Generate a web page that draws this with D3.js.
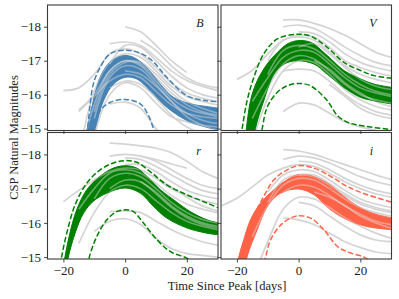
<!DOCTYPE html>
<html><head><meta charset="utf-8">
<script src="https://cdn.jsdelivr.net/npm/d3@7"></script>
<style>body{margin:0;background:#fff}svg{display:block}</style>
</head><body><svg id="c" width="399" height="299"></svg>
<script>
// ---------- data ----------
const days = [-25,-20,-15,-10,-5,0,5,10,15,20,25,30];
const filters = ["B","V","r","i"];
const filterColors = ["#4682b4","#008000","#008000","#ff6347"];
const xTicks = [-20,0,20];
const yTicks = [-18,-17,-16,-15];
const xLabel = "Time Since Peak [days]";
const yLabel = "CSP Natural Magnitudes";

// coloured template bands: [day, mag]
const bandUpperB = [[-15,-13.7],[-12.2,-15.0],[-10.8,-15.63],[-9.2,-16.21],[-7,-16.71],[-4.3,-17.0],[-0.5,-17.15],[2.7,-17.1],[7,-16.8],[11.4,-16.31],[15.7,-15.92],[21.1,-15.73],[26.5,-15.65],[30.5,-15.6]];
const bandLowerB = [[-12,-14.3],[-9.7,-15.0],[-7,-15.82],[-3.8,-16.31],[0,-16.51],[3.8,-16.46],[8.1,-16.12],[13.5,-15.63],[20,-15.24],[26.5,-15.04],[30.5,-14.97]];
const bandUpperV = [[-17.5,-14.5],[-15.6,-15.82],[-13.4,-16.41],[-10.2,-16.9],[-6.9,-17.24],[-3.7,-17.49],[-0.4,-17.59],[3.9,-17.54],[9.3,-17.15],[14.7,-16.71],[20.1,-16.46],[24.5,-16.31],[30.5,-16.21]];
const bandLowerV = [[-15,-14.4],[-14,-15.0],[-11.3,-15.82],[-8,-16.6],[-4.8,-16.9],[-0.4,-17.0],[5,-16.9],[9.3,-16.6],[14.7,-16.21],[20.1,-15.92],[24.5,-15.82],[30.5,-15.72]];
const bandUpperR = [[-21,-14.2],[-19.5,-15.0],[-17.9,-15.7],[-15.7,-16.38],[-12.4,-16.97],[-8.1,-17.36],[-3.8,-17.6],[0,-17.67],[3.8,-17.6],[7,-17.36],[11.4,-16.97],[15.8,-16.67],[21.1,-16.33],[26.5,-16.09],[30.5,-15.99]];
const bandLowerR = [[-19.5,-14.4],[-18.4,-15.0],[-16.2,-15.7],[-13.5,-16.28],[-10.3,-16.63],[-5.9,-16.87],[0,-17.02],[4.9,-16.87],[9.2,-16.48],[13.5,-16.14],[20.1,-15.85],[26.5,-15.7],[30.5,-15.65]];
const bandUpperI = [[-20.5,-14.4],[-19.4,-15.0],[-17.8,-15.5],[-15.6,-16.09],[-12.3,-16.58],[-8,-16.97],[-3.7,-17.26],[0,-17.41],[3.8,-17.38],[9.3,-17.16],[14.7,-16.77],[20.1,-16.43],[25.5,-16.24],[30.5,-16.14]];
const bandLowerI = [[-17.7,-14.6],[-16.7,-15.0],[-15.6,-15.31],[-13.4,-15.8],[-10.2,-16.48],[-5.8,-16.87],[0,-16.99],[5,-16.82],[10.4,-16.38],[15.8,-16.09],[22.3,-15.89],[30.5,-15.8]];

// dashed envelopes: [day, mag]
const dashHiB = [[-14,-13.9],[-12.2,-15.0],[-10.3,-16.31],[-8.1,-16.8],[-4.9,-17.2],[0,-17.31],[5,-17.22],[9,-16.98],[13.5,-16.51],[20,-15.97],[26.5,-15.82],[30.5,-15.8]];
const dashLoB = [[-11,-14.5],[-10,-15.0],[-8.1,-15.53],[-4.9,-15.77],[0,-15.86],[4.9,-15.73],[7.5,-15.4],[9.2,-15.0],[10.5,-14.7]];
const dashHiV = [[-19.5,-14.3],[-18.3,-15.0],[-16.7,-15.82],[-14.5,-16.51],[-11.3,-17.2],[-6.9,-17.64],[-0.4,-17.78],[3.9,-17.72],[9.3,-17.39],[14.7,-16.95],[20.1,-16.71],[24.5,-16.56],[30.5,-16.48]];
const dashLoV = [[-12.8,-14.5],[-11.8,-15.0],[-10.2,-15.63],[-6.9,-16.07],[-3.7,-16.26],[0,-16.33],[3.9,-16.26],[9.3,-15.82],[12.6,-15.38],[15.8,-15.19],[20.1,-15.09],[30.5,-14.97]];
const dashHiR = [[-21.8,-14.3],[-20.6,-15.0],[-18.9,-15.7],[-16.2,-16.53],[-12.4,-17.16],[-8.1,-17.55],[-3.8,-17.75],[0,-17.82],[3.8,-17.77],[8.1,-17.5],[13.5,-17.11],[20,-16.82],[26.5,-16.58],[30.5,-16.43]];
const dashLoR = [[-12.8,-14.5],[-11.6,-15.0],[-9.2,-15.6],[-5.9,-16.09],[-2.7,-16.33],[0,-16.38],[2.7,-16.33],[6,-15.99],[10.4,-15.5],[14.7,-15.16],[20,-14.97],[22,-14.85]];
const dashHiI = [[-20,-14.4],[-18.8,-15.0],[-16.7,-15.6],[-14.5,-16.19],[-11.3,-16.77],[-8,-17.26],[-3.7,-17.55],[0,-17.67],[5,-17.6],[10.4,-17.36],[15.8,-17.06],[22.3,-16.82],[30.5,-16.6]];
const dashLoI = [[-11.8,-14.6],[-10.7,-15.0],[-9.1,-15.5],[-5.8,-15.94],[-2.6,-16.14],[0,-16.21],[3.9,-16.14],[8.2,-15.8],[12.6,-15.31],[16.9,-15.12],[21.2,-15.0],[23,-14.9]];

// individual (grey) light curves, magnitudes at `days`
const _ = null;
const grayB = [
  [_,_,_,_,_,-18.0,-17.85,-17.45,-17.0,-16.65,_,_],
  [_,_,_,_,-17.5,-17.55,-17.45,-17.1,-16.7,-16.42,-16.25,-16.12],
  [_,-16.12,-16.2,-16.6,-17.2,-17.35,-17.2,-16.8,-16.35,-16.05,-15.9,-15.8],
  [_,_,_,_,-15.72,-15.78,-15.6,-15.0,-14.5,_,_,_],
  [_,_,-15.5,-15.95,-16.4,-16.6,-16.5,-16.1,-15.7,-15.45,-15.35,-15.3],
  [_,_,-14.2,-16.1,-16.95,-17.2,-17.1,-16.7,-16.25,-15.95,-15.8,-15.7],
  [_,_,-14.0,-15.7,-16.7,-17.0,-16.85,-16.4,-15.9,-15.6,-15.45,-15.35],
  [_,_,_,-15.3,-16.5,-16.85,-16.75,-16.3,-15.8,-15.45,-15.25,-15.15],
  [_,_,_,_,-16.9,-17.45,-17.4,-17.0,-16.55,-16.2,-16.0,-15.9],
  [_,_,_,-15.5,-16.6,-16.95,-16.95,-16.6,-16.15,-15.8,-15.6,-15.45],
  [_,_,_,_,_,-16.7,-16.6,-16.25,-15.8,-15.35,-15.1,-14.95],
  [_,_,_,_,-16.2,-16.4,-16.3,-15.9,-15.4,-15.05,-14.85,_],
  [_,_,_,-14.8,-16.0,-16.35,-16.2,-15.75,-15.35,-15.2,-15.1,-15.05],
  [_,_,_,_,_,_,-17.6,-17.3,-16.85,-16.5,-16.3,-16.2],
  [_,_,-15.55,-16.0,-16.7,-17.0,-16.9,-16.5,-16.05,-15.7,-15.5,-15.4]
];
const grayV = [
  [_,-16.45,-16.72,-17.2,-17.6,-17.75,-17.7,-17.4,-17.0,-16.8,-16.65,-16.55],
  [_,_,_,_,-18.2,-18.2,-18.1,-17.95,-17.75,-17.5,-17.25,-17.1],
  [_,_,_,_,-18.0,-18.05,-17.95,-17.7,-17.4,-17.15,-16.95,-16.85],
  [_,_,_,_,_,-17.85,-17.8,-17.55,-17.2,-16.95,-16.8,-16.7],
  [_,_,_,-17.0,-17.6,-17.7,-17.6,-17.25,-16.85,-16.6,-16.45,-16.35],
  [_,_,-15.8,-16.5,-17.1,-17.3,-17.25,-16.9,-16.5,-16.2,-16.05,-15.95],
  [_,_,-15.3,-16.2,-16.9,-17.15,-17.05,-16.7,-16.3,-16.0,-15.85,-15.75],
  [_,_,_,_,-15.5,-15.75,-15.7,-15.45,-15.2,-15.05,-14.95,_],
  [_,_,_,_,-16.7,-16.75,-16.7,-16.4,-16.0,-15.7,-15.5,-15.4],
  [_,_,_,_,_,-17.4,-17.5,-17.2,-16.8,-16.45,-16.25,-16.15],
  [_,_,_,-16.6,-17.3,-17.45,-17.35,-17.0,-16.6,-16.3,-16.1,-16.0],
  [_,_,_,_,_,_,-17.0,-16.75,-16.35,-16.05,-15.8,-15.65],
  [_,_,_,_,_,_,_,-16.3,-15.95,-15.6,-15.4,-15.3],
  [_,_,-14.6,-15.9,-16.7,-17.0,-16.95,-16.6,-16.15,-15.85,-15.65,-15.55]
];
const grayR = [
  [_,-16.62,-16.95,-17.25,-17.5,-17.6,-17.55,-17.3,-17.0,-16.8,-16.65,-16.55],
  [_,_,_,_,-18.33,-18.3,-18.25,-18.18,-18.05,-17.8,-17.5,-17.3],
  [_,_,_,_,-17.95,-18.0,-17.95,-17.8,-17.55,-17.3,-17.1,-17.0],
  [_,_,_,_,_,-17.9,-17.85,-17.65,-17.4,-17.15,-16.95,-16.85],
  [_,_,_,_,_,_,-17.95,-17.85,-17.72,-17.6,_,_],
  [_,_,-16.4,-17.0,-17.45,-17.55,-17.45,-17.15,-16.8,-16.55,-16.4,-16.3],
  [_,_,_,-16.7,-17.3,-17.45,-17.35,-17.0,-16.6,-16.3,-16.1,-16.0],
  [_,_,_,-15.75,-16.05,-16.12,-15.95,-15.55,-15.25,-15.1,-15.05,-15.0],
  [_,_,_,_,-16.33,-16.35,-16.3,-16.05,-15.8,-15.6,-15.45,-15.35],
  [_,_,-15.4,-16.3,-16.9,-17.1,-17.0,-16.65,-16.3,-16.05,-15.9,-15.8],
  [_,_,_,_,_,-17.7,-17.7,-17.5,-17.2,-16.95,-16.8,-16.7],
  [_,_,_,_,_,_,-17.2,-16.9,-16.5,-16.2,-16.0,-15.9],
  [_,_,_,_,-17.0,-17.25,-17.2,-16.85,-16.45,-16.15,-15.95,-15.85],
  [_,_,_,_,_,_,_,-17.3,-17.05,-16.75,-16.5,-16.35]
];
const grayI = [
  [-16.5,-16.72,-17.05,-17.4,-17.6,-17.7,-17.65,-17.45,-17.2,-17.0,-16.85,-16.75],
  [_,_,_,_,-18.14,-18.1,-18.0,-17.85,-17.7,-17.55,-17.4,-17.27],
  [_,_,_,_,-17.85,-17.95,-17.9,-17.75,-17.55,-17.35,-17.2,-17.1],
  [_,_,_,_,_,-17.8,-17.75,-17.55,-17.3,-17.1,-16.95,-16.85],
  [_,_,_,-16.9,-17.4,-17.55,-17.5,-17.25,-16.95,-16.7,-16.55,-16.45],
  [_,_,_,_,-16.14,-16.09,-15.95,-15.7,-15.45,-15.28,-15.15,-15.1],
  [_,_,-14.3,-15.45,-16.4,-16.75,-16.7,-16.45,-16.15,-15.9,-15.7,-15.55],
  [_,_,-15.6,-16.5,-17.1,-17.3,-17.25,-17.0,-16.7,-16.45,-16.3,-16.2],
  [_,_,_,_,-16.9,-17.1,-17.05,-16.8,-16.5,-16.25,-16.05,-15.95],
  [_,_,_,_,_,-17.4,-17.4,-17.15,-16.85,-16.6,-16.45,-16.35],
  [_,_,_,-16.6,-17.25,-17.4,-17.35,-17.1,-16.8,-16.55,-16.4,-16.3],
  [_,_,_,_,_,_,-16.9,-16.75,-16.5,-16.2,-16.0,-15.85],
  [_,_,_,_,_,-16.6,-16.5,-16.2,-15.9,-15.65,-15.5,-15.45]
];

// ---------- drawing ----------
const svg = d3.select("#c");
const W = 170.5;
const panels = [
  {name:"B", left:47.5, top:5, h:125.5, upper:bandUpperB, lower:bandLowerB, hi:dashHiB, lo:dashLoB, gray:grayB, color:filterColors[0], showY:true, showX:false, lx:200, ly:26.5},
  {name:"V", left:221, top:5, h:125.5, upper:bandUpperV, lower:bandLowerV, hi:dashHiV, lo:dashLoV, gray:grayV, color:filterColors[1], showY:false, showX:false, lx:373, ly:26.5},
  {name:"r", left:47.5, top:132.5, h:126.5, upper:bandUpperR, lower:bandLowerR, hi:dashHiR, lo:dashLoR, gray:grayR, color:filterColors[2], showY:true, showX:true, lx:198.5, ly:155},
  {name:"i", left:221, top:132.5, h:126.5, upper:bandUpperI, lower:bandLowerI, hi:dashHiI, lo:dashLoI, gray:grayI, color:filterColors[3], showY:false, showX:true, lx:371.5, ly:155}
];
const fmt = v => (v < 0 ? "\u2212" + Math.abs(v) : String(v));
const font = "'Liberation Serif', 'Times New Roman', serif";

panels.forEach((p, k) => {
  const x = d3.scaleLinear().domain([-25.15, 30.1]).range([0, W]);
  const y = d3.scaleLinear().domain([-14.945, -18.64]).range([p.h, 0]);
  const g = svg.append("g").attr("transform", `translate(${p.left},${p.top})`);
  const cid = "clip" + k, bid = "bclip" + k;
  g.append("clipPath").attr("id", cid).append("rect").attr("width", W).attr("height", p.h);
  const body = g.append("g").attr("clip-path", `url(#${cid})`);
  const line = d3.line().x(d => x(d[0])).y(d => y(d[1])).curve(d3.curveCatmullRom.alpha(0.5));

  const up = line(p.upper);
  const lowRev = line(p.lower.slice().reverse());
  const bandD = up + "L" + lowRev.slice(1) + "Z";
  g.append("clipPath").attr("id", bid).append("path").attr("d", bandD);

  const grayPaths = p.gray.map(row =>
    line(days.map((t, j) => [t, row[j]]).filter(d => d[1] !== null)));

  // grey light curves (full)
  grayPaths.forEach(d => body.append("path").attr("d", d).attr("fill", "none")
    .attr("stroke", "#d4d4d4").attr("stroke-width", 1.7));

  // band on top
  body.append("path").attr("d", bandD)
    .attr("fill", p.color).attr("stroke", p.color).attr("stroke-width", 1);

  // faint grey streaks where curves cross the band
  const inBand = body.append("g").attr("clip-path", `url(#${bid})`);
  grayPaths.forEach(d => inBand.append("path").attr("d", d).attr("fill", "none")
    .attr("stroke", "#e0e0e0").attr("stroke-opacity", 0.45).attr("stroke-width", 1.6));

  // dashed envelopes
  [p.hi, p.lo].forEach(arr => {
    body.append("path").attr("d", line(arr)).attr("fill", "none")
      .attr("stroke", p.color).attr("stroke-width", 1.5).attr("stroke-dasharray", "5.5,2.4");
  });

  // axes
  const ax = g.append("g").attr("transform", `translate(0,${p.h})`)
    .call(d3.axisBottom(x).tickValues(xTicks).tickSize(3.5).tickPadding(3)
      .tickFormat(p.showX ? fmt : () => ""));
  const ay = g.append("g")
    .call(d3.axisLeft(y).tickValues(yTicks).tickSize(3.5).tickPadding(3)
      .tickFormat(p.showY ? fmt : () => ""));
  [ax, ay].forEach(a => {
    a.select(".domain").remove();
    a.selectAll("line").attr("stroke", "#333").attr("stroke-width", 0.9);
    a.selectAll("text").attr("font-family", font).attr("font-size", 13).attr("fill", "#222");
  });

  g.append("rect").attr("width", W).attr("height", p.h).attr("fill", "none")
    .attr("stroke", "#3a3a3a").attr("stroke-width", 1.1);

  svg.append("text").attr("x", p.lx).attr("y", p.ly).attr("text-anchor", "middle")
    .attr("font-family", font).attr("font-style", "italic").attr("font-size", 12)
    .attr("fill", "#222").text(p.name);
});

svg.append("text").attr("x", 227).attr("y", 290).attr("text-anchor", "middle")
  .attr("font-family", font).attr("font-size", 12.5).attr("fill", "#222").text(xLabel);
svg.append("text").attr("transform", "translate(18,137.5) rotate(-90)").attr("text-anchor", "middle")
  .attr("font-family", font).attr("font-size", 12.5).attr("fill", "#222").text(yLabel);
</script></body></html>
